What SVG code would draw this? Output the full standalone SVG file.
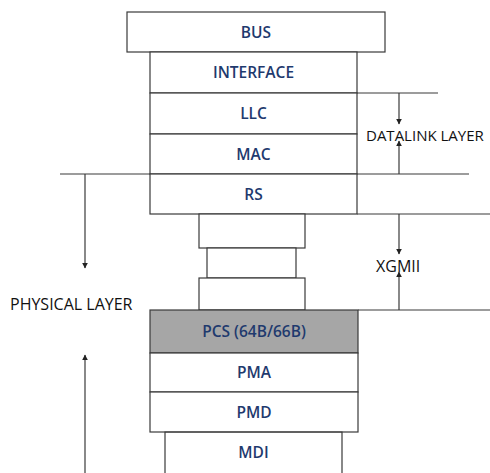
<svg xmlns="http://www.w3.org/2000/svg" width="490" height="473" viewBox="0 0 490 473">
<style>
.box{fill:#fff;stroke:#3a3a3a;stroke-width:1.2}
.gray{fill:#a6a6a6;stroke:#3a3a3a;stroke-width:1.2}
.ln{stroke:#3a3a3a;stroke-width:1.2;fill:none}
.lbl{font-family:"Open Sans","Liberation Sans",sans-serif;font-size:15.5px;font-weight:600;fill:#1f3a6e;text-anchor:middle;dominant-baseline:central}
.side{font-family:"Open Sans","Liberation Sans",sans-serif;font-size:16px;fill:#111}
</style>
<defs>
<marker id="ah" viewBox="0 0 10 10" refX="9" refY="5" markerWidth="6" markerHeight="6" orient="auto-start-reverse" markerUnits="userSpaceOnUse">
<path d="M0,0 L10,5 L0,10 z" fill="#222"/>
</marker>
</defs>
<rect width="490" height="473" fill="#fff"/>
<g id="connectors">
<line class="ln" x1="357" y1="93" x2="438" y2="93"/>
<line class="ln" x1="60" y1="174" x2="469" y2="174"/>
<line class="ln" x1="357" y1="214" x2="490" y2="214"/>
<line class="ln" x1="358" y1="310" x2="490" y2="310"/>
<line class="ln" x1="399" y1="93" x2="399" y2="124" marker-end="url(#ah)"/>
<line class="ln" x1="399" y1="174" x2="399" y2="141" marker-end="url(#ah)"/>
<line class="ln" x1="399" y1="214" x2="399" y2="254" marker-end="url(#ah)"/>
<line class="ln" x1="399" y1="310" x2="399" y2="272" marker-end="url(#ah)"/>
<line class="ln" x1="85" y1="174" x2="85" y2="268" marker-end="url(#ah)"/>
<line class="ln" x1="85" y1="473" x2="85" y2="355" marker-end="url(#ah)"/>
</g>
<g id="bus"><rect class="box" x="127" y="12" width="258" height="40"/><text class="lbl" x="256" y="31.5">BUS</text></g>
<g id="interface"><rect class="box" x="150" y="52" width="207" height="41"/><text class="lbl" x="253.5" y="72">INTERFACE</text></g>
<g id="llc"><rect class="box" x="150" y="93" width="207" height="41"/><text class="lbl" x="253.5" y="113">LLC</text></g>
<g id="mac"><rect class="box" x="150" y="134" width="207" height="40"/><text class="lbl" x="253.5" y="153.5">MAC</text></g>
<g id="rs"><rect class="box" x="150" y="174" width="207" height="40"/><text class="lbl" x="253.5" y="193.5">RS</text></g>
<g id="xgmii1"><rect class="box" x="199" y="214" width="106" height="34"/></g>
<g id="xgmii2"><rect class="box" x="207" y="248" width="89" height="30"/></g>
<g id="xgmii3"><rect class="box" x="199" y="278" width="106" height="32"/></g>
<g id="pcs"><rect class="gray" x="150" y="310" width="208" height="43"/><text class="lbl" x="254" y="331">PCS (64B/66B)</text></g>
<g id="pma"><rect class="box" x="150" y="353" width="208" height="39"/><text class="lbl" x="254" y="372">PMA</text></g>
<g id="pmd"><rect class="box" x="150" y="392" width="208" height="40"/><text class="lbl" x="254" y="411.5">PMD</text></g>
<g id="mdi"><path class="ln" d="M165,473 V432 H342 V473"/><text class="lbl" x="253.5" y="451.5">MDI</text></g>
<g id="labels">
<text class="side" x="366" y="141" style="font-size:15px">DATALINK LAYER</text>
<text class="side" x="376" y="272">XGMII</text>
<text class="side" x="10" y="310">PHYSICAL LAYER</text>
</g>
</svg>
